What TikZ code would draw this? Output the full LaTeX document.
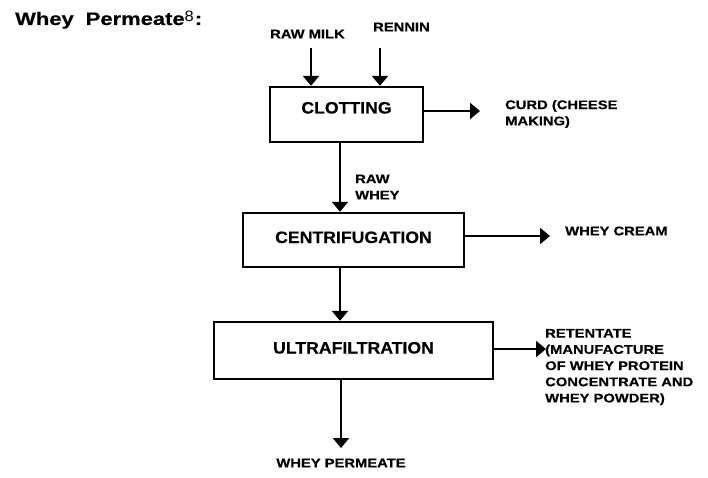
\documentclass[tikz,border=0pt]{standalone}
\usepackage{fontspec}
\setmainfont{Liberation Sans}
\newfontfamily\labfont[FakeStretch=1.18,FakeBold=0.4]{Liberation Sans}
\newfontfamily\boxfont[FakeStretch=1.07,FakeBold=0.3]{Liberation Sans}
\newfontfamily\ttlfont[FakeStretch=1.22,FakeBold=0.4]{Liberation Sans}
\newfontfamily\supfont[FakeStretch=1.1]{Liberation Sans}
\usetikzlibrary{arrows.meta}
\begin{document}
\begin{tikzpicture}[x=1pt,y=-1pt,
  procbox/.style={draw, line width=2.4pt, inner sep=0pt, text height=12pt,
    font=\boxfont\bfseries\fontsize{16.5}{20}\selectfont},
  lab/.style={inner sep=0pt, align=left,
    font=\labfont\bfseries\fontsize{12.5}{16.2}\selectfont},
  flow/.style={line width=2.4pt, -{Triangle[width=16pt,length=10pt]}}]
\useasboundingbox (0,0) rectangle (708,478);

% title
\node[anchor=base west, inner sep=0pt,
  font=\ttlfont\bfseries\fontsize{18}{22}\selectfont] (title) at (15,25)
  {Whey\hspace{12pt}Permeate\raisebox{3pt}{\supfont\mdseries\fontsize{15}{15}\selectfont 8}\hspace{1pt}:};

% process boxes
\node[procbox, minimum width=153pt, minimum height=55pt, text depth=14pt]
  (clot) at (346.5,114.5) {CLOTTING};
\node[procbox, minimum width=221pt, minimum height=54pt, text depth=6pt]
  (cent) at (353.5,240) {CENTRIFUGATION};
\node[procbox, minimum width=279pt, minimum height=57pt, text depth=6pt]
  (ultra) at (353.5,350.5) {ULTRAFILTRATION};

% labels
\node[lab, anchor=west] (rawmilk) at (270,34) {RAW MILK};
\node[lab, anchor=west] (rennin) at (373,27) {RENNIN};
\node[lab, anchor=west] (curd) at (505,114) {CURD (CHEESE\\MAKING)};
\node[lab, anchor=west] (rawwhey) at (355,187) {RAW\\WHEY};
\node[lab, anchor=west] (cream) at (565,231) {WHEY CREAM};
\node[lab, anchor=west] (ret) at (545,367)
  {RETENTATE\\(MANUFACTURE\\OF WHEY PROTEIN\\CONCENTRATE AND\\WHEY POWDER)};
\node[lab] (perm) at (341,463) {WHEY PERMEATE};

% connector helper points
\coordinate (rm) at (311,48);
\coordinate (rn) at (380,48);
\coordinate (sp) at (340,0);
\coordinate (curdtip) at (480,111);
\coordinate (creamtip) at (550,236);
\coordinate (rettip) at (546,349);
\coordinate (permtip) at (341,448);

% connectors
\draw[flow] (rm) -- (rm |- clot.north);
\draw[flow] (rn) -- (rn |- clot.north);
\draw[flow] (clot.east |- curdtip) -- (curdtip);
\draw[flow] (clot.south -| sp) -- (cent.north -| sp);
\draw[flow] (cent.east |- creamtip) -- (creamtip);
\draw[flow] (cent.south -| sp) -- (ultra.north -| sp);
\draw[flow] (ultra.east |- rettip) -- (rettip);
\draw[flow] (ultra.south -| permtip) -- (permtip);
\end{tikzpicture}
\end{document}
